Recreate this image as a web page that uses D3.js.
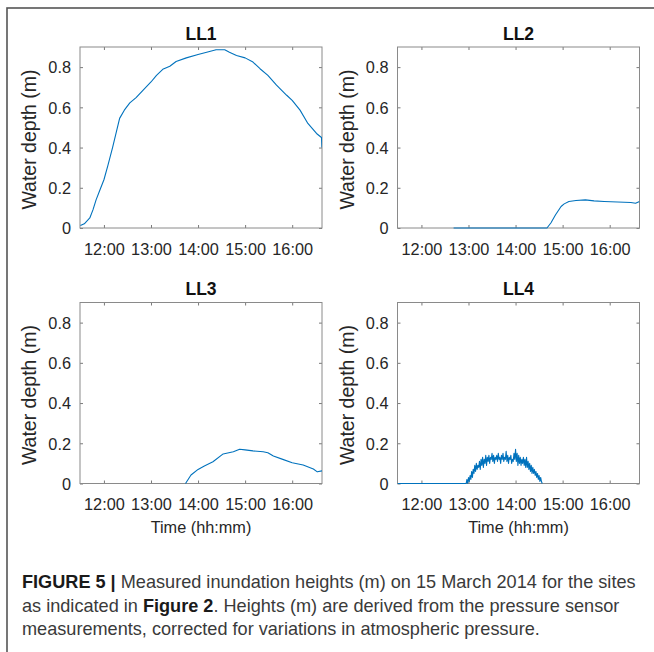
<!DOCTYPE html>
<html>
<head>
<meta charset="utf-8">
<script src="https://cdn.jsdelivr.net/npm/d3@7"></script>
<style>
  html, body { margin: 0; padding: 0; background: #fff; }
  svg { display: block; }
</style>
</head>
<body>
<svg id="chart" width="654" height="652"></svg>
<script>
// Water depth readings (time, metres)
const ll1 = [
  ["11:30", 0.012], ["11:35", 0.021], ["11:42", 0.05], ["11:46", 0.09], ["11:50", 0.14],
  ["11:55", 0.19], ["12:00", 0.24], ["12:05", 0.31], ["12:11", 0.40], ["12:16", 0.48],
  ["12:20", 0.545], ["12:26", 0.586], ["12:33", 0.622], ["12:41", 0.648], ["12:50", 0.685],
  ["13:00", 0.726], ["13:07", 0.759], ["13:15", 0.789], ["13:24", 0.804], ["13:32", 0.828],
  ["13:45", 0.846], ["14:00", 0.863], ["14:11", 0.874], ["14:23", 0.886], ["14:34", 0.886],
  ["14:40", 0.874], ["14:49", 0.858], ["15:00", 0.846], ["15:10", 0.825], ["15:19", 0.792],
  ["15:29", 0.759], ["15:40", 0.71], ["15:53", 0.66], ["16:00", 0.635], ["16:10", 0.586],
  ["16:20", 0.52], ["16:31", 0.47], ["16:37:20", 0.45], ["16:38", 0.40]
];
const ll2 = [
  ["12:41", 0], ["14:40", 0], ["14:45", 0.025], ["14:51", 0.066], ["14:58", 0.107],
  ["15:02", 0.12], ["15:08", 0.132], ["15:17", 0.137], ["15:29", 0.14], ["15:40", 0.135],
  ["15:53", 0.132], ["16:10", 0.129], ["16:27", 0.127], ["16:33", 0.123], ["16:38", 0.132]
];
const ll3 = [
  ["13:44", 0], ["13:51", 0.042], ["14:00", 0.07], ["14:08", 0.087], ["14:19", 0.108],
  ["14:32", 0.147], ["14:45", 0.158], ["14:53", 0.17], ["15:00", 0.167], ["15:10", 0.162],
  ["15:23", 0.158], ["15:29", 0.153], ["15:36", 0.137], ["15:48", 0.12], ["16:00", 0.103],
  ["16:14", 0.092], ["16:27", 0.072], ["16:32", 0.058], ["16:38", 0.063]
];
// LL4: flat until 12:57, then one reading per minute (noisy)
const ll4Lead = [["11:29:30", 0]];
const ll4Start = "12:57";
const ll4Values = [
  0.00, 0.02, 0.00, 0.03, 0.01, 0.04, 0.02, 0.06, 0.03, 0.07,
  0.05, 0.09, 0.06, 0.10, 0.07, 0.09, 0.08, 0.11, 0.07, 0.12,
  0.09, 0.13, 0.08, 0.12, 0.10, 0.14, 0.09, 0.13, 0.11, 0.14,
  0.10, 0.13, 0.12, 0.15, 0.11, 0.14, 0.10, 0.13, 0.12, 0.14,
  0.11, 0.15, 0.12, 0.13, 0.10, 0.14, 0.12, 0.15, 0.11, 0.13,
  0.12, 0.16, 0.11, 0.14, 0.10, 0.13, 0.12, 0.14, 0.10, 0.12,
  0.11, 0.15, 0.12, 0.17, 0.11, 0.15, 0.09, 0.14, 0.10, 0.13,
  0.09, 0.12, 0.10, 0.13, 0.09, 0.12, 0.08, 0.13, 0.08, 0.11,
  0.07, 0.10, 0.06, 0.09, 0.05, 0.08, 0.05, 0.07, 0.04, 0.06,
  0.03, 0.05, 0.02, 0.04, 0.01, 0.03, 0.01, 0.00
];

const timeDomain = ["11:29:30", "16:38"];
const depthDomain = [0, 0.9];
const depthTicks = [0, 0.2, 0.4, 0.6, 0.8];

const captionLines = [
  [["FIGURE 5 | ", true], ["Measured inundation heights (m) on 15 March 2014 for the sites", false]],
  [["as indicated in ", false], ["Figure 2", true], [". Heights (m) are derived from the pressure sensor", false]],
  [["measurements, corrected for variations in atmospheric pressure.", false]]
];

const day = "2014-03-15 ";
const parseT = s => (s.length > 5 ? d3.timeParse("%Y-%m-%d %H:%M:%S") : d3.timeParse("%Y-%m-%d %H:%M"))(day + s);
const toPoints = arr => arr.map(([t, v]) => ({ t: parseT(t), v }));

const ll4 = toPoints(ll4Lead).concat(
  ll4Values.map((v, i) => ({ t: d3.timeMinute.offset(parseT(ll4Start), i), v }))
);

const panels = [
  { name: "LL1", data: toPoints(ll1), left: 80, top: 47, xlabel: false },
  { name: "LL2", data: toPoints(ll2), left: 397.5, top: 47, xlabel: false },
  { name: "LL3", data: toPoints(ll3), left: 80, top: 302.5, xlabel: true },
  { name: "LL4", data: ll4, left: 397.5, top: 302.5, xlabel: true }
];
const pw = 242, ph = 181;

const svg = d3.select("#chart");
const font = "'Liberation Sans', Arial, Helvetica, sans-serif";

// frame around the figure
svg.append("rect")
  .attr("x", 7).attr("y", 8)
  .attr("width", 700).attr("height", 700)
  .attr("fill", "none")
  .attr("stroke", "#555")
  .attr("stroke-width", 1.6);

const defs = svg.append("defs");

panels.forEach((p, i) => {
  const x = d3.scaleTime().domain(timeDomain.map(parseT)).range([0, pw]);
  const y = d3.scaleLinear().domain(depthDomain).range([ph, 0]);
  const g = svg.append("g").attr("transform", `translate(${p.left},${p.top})`);

  defs.append("clipPath").attr("id", "clip" + i)
    .append("rect").attr("x", 0).attr("y", -1).attr("width", pw).attr("height", ph + 2);

  const hours = d3.timeHour.every(1).range(x.domain()[0], x.domain()[1]);
  const fmt = d3.timeFormat("%H:%M");

  // bottom axis (ticks inside) and mirrored top ticks
  const xb = g.append("g").attr("transform", `translate(0,${ph})`)
    .call(d3.axisBottom(x).tickValues(hours).tickFormat(fmt).tickSizeInner(-3).tickSizeOuter(0).tickPadding(15));
  const xt = g.append("g")
    .call(d3.axisTop(x).tickValues(hours).tickFormat("").tickSizeInner(-3).tickSizeOuter(0));
  const yl = g.append("g")
    .call(d3.axisLeft(y).tickValues(depthTicks).tickFormat(d3.format("~g")).tickSizeInner(-3).tickSizeOuter(0).tickPadding(9));
  const yr = g.append("g").attr("transform", `translate(${pw},0)`)
    .call(d3.axisRight(y).tickValues(depthTicks).tickFormat("").tickSizeInner(-3).tickSizeOuter(0));

  [xb, xt, yl, yr].forEach(a => {
    a.select(".domain").remove();
    a.selectAll(".tick line").attr("stroke", "#7a7a7a");
    a.selectAll("text").attr("fill", "#262626").attr("font-family", font).attr("font-size", 16.3);
  });
  yl.selectAll("text").attr("dy", "0.36em");

  g.append("rect")
    .attr("width", pw).attr("height", ph)
    .attr("fill", "none")
    .attr("stroke", "#8a8a8a")
    .attr("stroke-width", 1);

  const line = d3.line().x(d => x(d.t)).y(d => y(d.v));
  g.append("path")
    .datum(p.data)
    .attr("clip-path", `url(#clip${i})`)
    .attr("fill", "none")
    .attr("stroke", "#0072BD")
    .attr("stroke-width", 1.1)
    .attr("stroke-linejoin", "round")
    .attr("d", line);

  g.append("text")
    .attr("x", pw / 2).attr("y", -7.5)
    .attr("text-anchor", "middle")
    .attr("font-family", font).attr("font-weight", "bold").attr("font-size", 17.5)
    .attr("fill", "#111")
    .text(p.name);

  g.append("text")
    .attr("transform", `translate(-44,${ph / 2 + 2}) rotate(-90)`)
    .attr("text-anchor", "middle")
    .attr("font-family", font).attr("font-size", 19.5)
    .attr("fill", "#262626")
    .text("Water depth (m)");

  if (p.xlabel) {
    g.append("text")
      .attr("x", pw / 2).attr("y", ph + 49.5)
      .attr("text-anchor", "middle")
      .attr("font-family", font).attr("font-size", 16.3)
      .attr("fill", "#262626")
      .text("Time (hh:mm)");
  }
});

// caption
const capBase = [588, 611.7, 635.3];
const capTexts = captionLines.map((parts, li) => {
  const t = svg.append("text")
    .attr("x", 22).attr("y", capBase[li])
    .attr("font-family", font).attr("font-size", 16)
    .attr("fill", "#3a3a3a");
  parts.forEach(([s, b]) => {
    t.append("tspan")
      .attr("font-weight", b ? "bold" : null)
      .attr("fill", b ? "#1a1a1a" : null)
      .text(s);
  });
  return t;
});
// fit the first line to its width in the figure, same size for all lines
const w0 = capTexts[0].node().getComputedTextLength();
const capSize = 16 * 614 / w0;
capTexts.forEach(t => t.attr("font-size", capSize));
</script>
</body>
</html>
